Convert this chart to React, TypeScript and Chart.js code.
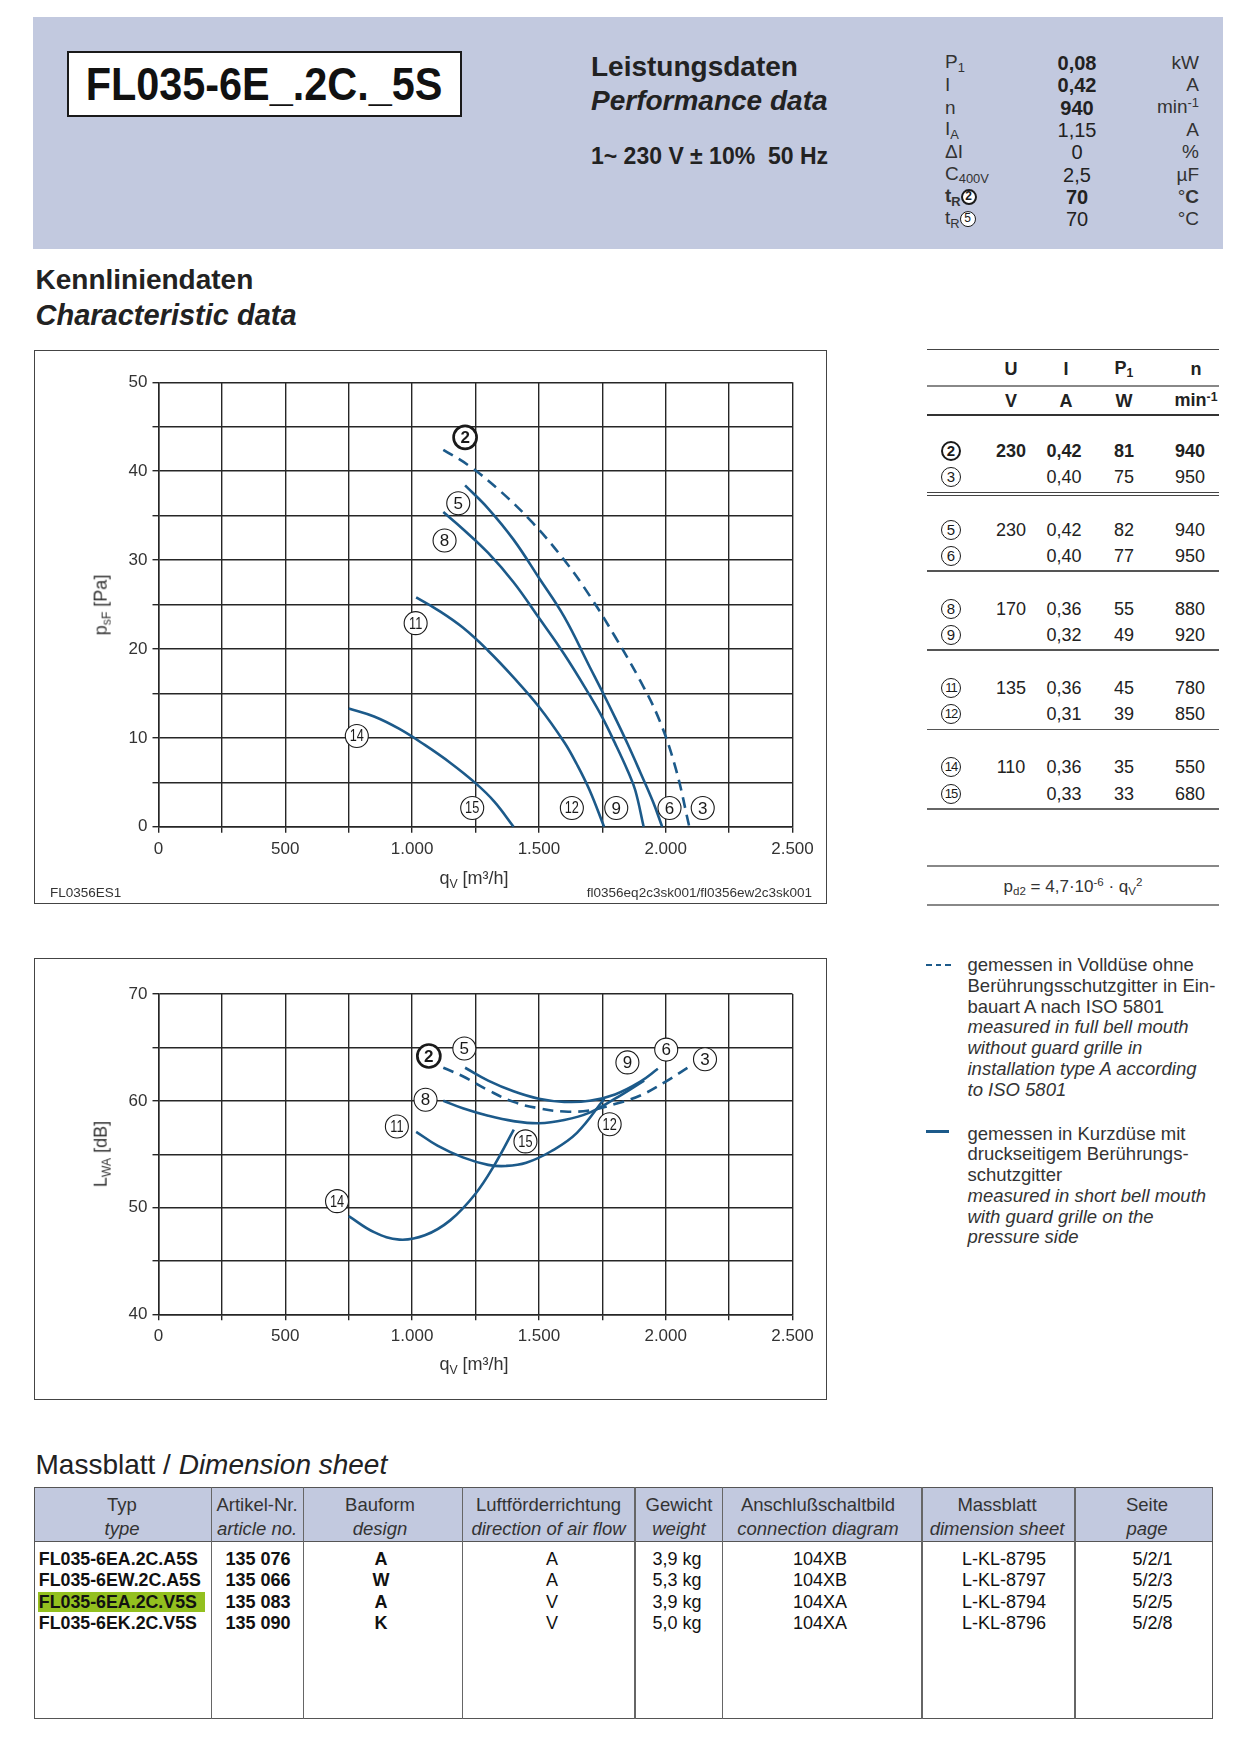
import React, { useEffect, useRef } from 'react';
import { Chart, registerables } from 'chart.js';

Chart.register(...registerables);

const SANS = "'Liberation Sans', Arial, Helvetica, sans-serif";
const BLUE = '#1c5a8a';
const BAND = '#c2c9df';
const GRID = '#262626';
const TEXT = '#222';

// ---------- axis tick labels ----------
const qTickValues = [0, 500, 1000, 1500, 2000, 2500];
const qTickLabels = ['0', '500', '1.000', '1.500', '2.000', '2.500'];
const pTickValues = [0, 10, 20, 30, 40, 50];
const pTickLabels = ['0', '10', '20', '30', '40', '50'];
const lTickValues = [40, 50, 60, 70];
const lTickLabels = ['40', '50', '60', '70'];

// ---------- pressure curves  psF [Pa] vs qV [m3/h] ----------
const pQ_2_3 = [1123, 1225, 1350, 1475, 1600, 1700, 1800, 1900, 1975, 2040, 2093];
const pP_2_3 = [42.4, 40.6, 37.7, 34.2, 30.0, 26.0, 21.4, 16.4, 12.0, 6.5, 0];
const pQ_5_6 = [1209, 1300, 1400, 1500, 1600, 1700, 1750, 1800, 1850, 1900, 1950, 1986];
const pP_5_6 = [38.4, 35.8, 32.3, 28.0, 23.6, 18.0, 15.2, 12.3, 9.3, 6.1, 2.8, 0];
const pQ_8_9 = [1123, 1200, 1300, 1400, 1500, 1600, 1700, 1750, 1800, 1850, 1880, 1913];
const pP_8_9 = [35.4, 33.5, 30.8, 27.5, 23.5, 19.4, 14.8, 12.3, 9.4, 6.3, 4.1, 0];
const pQ_11_12 = [1016, 1100, 1200, 1300, 1400, 1500, 1600, 1650, 1700, 1757];
const pP_11_12 = [25.8, 24.4, 22.4, 19.8, 16.8, 13.5, 9.5, 7.0, 4.1, 0];
const pQ_14_15 = [750, 850, 950, 1050, 1150, 1250, 1325, 1400];
const pP_14_15 = [13.3, 12.4, 11.0, 9.2, 7.2, 4.9, 2.8, 0];

const pLabelText = ['2', '5', '8', '11', '14', '15', '12', '9', '6', '3'];
const pLabelQ = [1209, 1182, 1128, 1014, 782, 1237, 1630, 1805, 2015, 2146];
const pLabelP = [43.8, 36.4, 32.2, 22.9, 10.2, 2.1, 2.1, 2.1, 2.1, 2.1];

// ---------- noise curves  LWA [dB] vs qV [m3/h] ----------
const nQ_2_3 = [1123, 1200, 1300, 1400, 1500, 1600, 1700, 1800, 1900, 2000, 2087];
const nL_2_3 = [63.1, 62.3, 61.0, 59.9, 59.3, 59.0, 59.1, 59.7, 60.5, 61.8, 63.1];
const nQ_5_6 = [1209, 1300, 1400, 1500, 1600, 1700, 1800, 1900, 1969];
const nL_5_6 = [63.1, 61.9, 60.9, 60.2, 59.9, 60.0, 60.6, 61.8, 63.0];
const nQ_8_9 = [1123, 1200, 1300, 1400, 1500, 1600, 1700, 1800, 1915];
const nL_8_9 = [60.0, 59.3, 58.6, 58.1, 57.9, 58.2, 58.9, 60.2, 61.9];
const nQ_11_12 = [1016, 1100, 1200, 1300, 1370, 1450, 1550, 1650, 1758];
const nL_11_12 = [57.1, 55.8, 54.7, 54.0, 53.9, 54.2, 55.3, 57.0, 60.2];
const nQ_14_15 = [750, 850, 950, 1050, 1150, 1250, 1325, 1401];
const nL_14_15 = [49.2, 47.7, 47.0, 47.4, 48.8, 51.3, 54.0, 57.3];

const nLabelText = ['2', '5', '9', '6', '3', '8', '11', '12', '15', '14'];
const nLabelQ = [1066, 1206, 1849, 2002, 2155, 1053, 940, 1779, 1447, 704];
const nLabelL = [64.2, 64.9, 63.6, 64.8, 63.9, 60.1, 57.6, 57.8, 56.2, 50.6];

const boldLabels = ['2'];

// ---------- header performance data ----------
const paramValues = ['0,08', '0,42', '940', '1,15', '0', '2,5', '70', '70'];
const paramBold = [true, true, true, false, false, false, true, false];

// ---------- operating point table ----------
const rowIds = ['2', '3', '5', '6', '8', '9', '11', '12', '14', '15'];
const rowU = ['230', '', '230', '', '170', '', '135', '', '110', ''];
const rowI = ['0,42', '0,40', '0,42', '0,40', '0,36', '0,32', '0,36', '0,31', '0,36', '0,33'];
const rowP = ['81', '75', '82', '77', '55', '49', '45', '39', '35', '33'];
const rowN = ['940', '950', '940', '950', '880', '920', '780', '850', '550', '680'];

// ---------- legend ----------
const legendDashedDe = ['gemessen in Volldüse ohne', 'Berührungsschutzgitter in Ein-', 'bauart A nach ISO 5801'];
const legendDashedEn = ['measured in full bell mouth', 'without guard grille in', 'installation type A according', 'to ISO 5801'];
const legendSolidDe = ['gemessen in Kurzdüse mit', 'druckseitigem Berührungs-', 'schutzgitter'];
const legendSolidEn = ['measured in short bell mouth', 'with guard grille on the', 'pressure side'];

// ---------- dimension sheet ----------
const dimHeadDe = ['Typ', 'Artikel-Nr.', 'Bauform', 'Luftförderrichtung', 'Gewicht', 'Anschlußschaltbild', 'Massblatt', 'Seite'];
const dimHeadEn = ['type', 'article no.', 'design', 'direction of air flow', 'weight', 'connection diagram', 'dimension sheet', 'page'];
const dimTypes = ['FL035-6EA.2C.A5S', 'FL035-6EW.2C.A5S', 'FL035-6EA.2C.V5S', 'FL035-6EK.2C.V5S'];
const dimArticle = ['135 076', '135 066', '135 083', '135 090'];
const dimDesign = ['A', 'W', 'A', 'K'];
const dimFlow = ['A', 'A', 'V', 'V'];
const dimWeight = ['3,9 kg', '5,3 kg', '3,9 kg', '5,0 kg'];
const dimDiagram = ['104XB', '104XB', '104XA', '104XA'];
const dimSheet = ['L-KL-8795', 'L-KL-8797', 'L-KL-8794', 'L-KL-8796'];
const dimPage = ['5/2/1', '5/2/3', '5/2/5', '5/2/8'];
const dimHighlightRow = 2;

// =====================================================================

type Curve = { q: number[]; v: number[]; dashed: boolean };

const pressureCurves: Curve[] = [
  { q: pQ_2_3, v: pP_2_3, dashed: true },
  { q: pQ_5_6, v: pP_5_6, dashed: false },
  { q: pQ_8_9, v: pP_8_9, dashed: false },
  { q: pQ_11_12, v: pP_11_12, dashed: false },
  { q: pQ_14_15, v: pP_14_15, dashed: false },
];
const noiseCurves: Curve[] = [
  { q: nQ_2_3, v: nL_2_3, dashed: true },
  { q: nQ_5_6, v: nL_5_6, dashed: false },
  { q: nQ_8_9, v: nL_8_9, dashed: false },
  { q: nQ_11_12, v: nL_11_12, dashed: false },
  { q: nQ_14_15, v: nL_14_15, dashed: false },
];

const circlePlugin = {
  id: 'circleLabels',
  afterDatasetsDraw(chart: any, _args: any, opts: any) {
    const { ctx, scales } = chart;
    ctx.save();
    (opts.texts as string[]).forEach((t, i) => {
      const x = scales.x.getPixelForValue(opts.xs[i]);
      const y = scales.y.getPixelForValue(opts.ys[i]);
      const bold = boldLabels.includes(t);
      ctx.beginPath();
      ctx.arc(x, y, 11.5, 0, Math.PI * 2);
      ctx.fillStyle = '#fff';
      ctx.fill();
      ctx.lineWidth = bold ? 2.7 : 1.1;
      ctx.strokeStyle = '#1a1a1a';
      ctx.stroke();
      ctx.fillStyle = '#1a1a1a';
      ctx.font = `${bold ? 'bold ' : ''}${t.length > 1 ? 15 : 17}px ${SANS}`;
      ctx.textAlign = 'center';
      ctx.textBaseline = 'middle';
      if (t.length > 1) {
        ctx.save();
        ctx.translate(x, y + 1);
        ctx.scale(0.85, 1.05);
        ctx.fillText(t, 0, 0);
        ctx.restore();
      } else {
        ctx.fillText(t, x, y + 1);
      }
    });
    ctx.restore();
  },
};

type ChartProps = {
  left: number; top: number; width: number; height: number;
  padTop: number; padRight: number; yWidth: number; xHeight: number;
  yMin: number; yMax: number; yTickValues: number[]; yTickLabels: string[];
  curves: Curve[]; labels: { texts: string[]; xs: number[]; ys: number[] };
};

function FanChart(p: ChartProps) {
  const ref = useRef<HTMLCanvasElement>(null);
  useEffect(() => {
    const datasets = p.curves.map((c) => ({
      data: c.q.map((x, i) => ({ x, y: c.v[i] })),
      showLine: true,
      borderColor: BLUE,
      borderWidth: 2.6,
      borderDash: c.dashed ? [11, 7] : [],
      pointRadius: 0,
      tension: 0.4,
      fill: false,
      clip: false as any,
    }));
    const tickFont = { family: SANS, size: 17 };
    const chart = new Chart(ref.current as HTMLCanvasElement, {
      type: 'scatter',
      data: { datasets },
      options: {
        animation: false,
        responsive: false,
        devicePixelRatio: 1,
        layout: { padding: { top: p.padTop, right: p.padRight, left: 0, bottom: 0 } },
        plugins: {
          legend: { display: false },
          tooltip: { enabled: false },
          circleLabels: p.labels,
        } as any,
        scales: {
          x: {
            type: 'linear',
            position: 'bottom',
            min: 0,
            max: 2500,
            afterFit: (s: any) => { s.height = p.xHeight; },
            ticks: {
              stepSize: 250,
              autoSkip: false,
              maxRotation: 0,
              minRotation: 0,
              padding: 6,
              color: '#333',
              font: tickFont,
              callback: (v: any) => {
                const i = qTickValues.indexOf(Number(v));
                return i >= 0 ? qTickLabels[i] : '';
              },
            },
            grid: { color: GRID, lineWidth: 1.4, tickLength: 6, drawTicks: true },
            border: { color: GRID, width: 1.5 },
          },
          y: {
            type: 'linear',
            min: p.yMin,
            max: p.yMax,
            afterFit: (s: any) => { s.width = p.yWidth; },
            ticks: {
              stepSize: 5,
              autoSkip: false,
              padding: 5,
              color: '#333',
              font: tickFont,
              callback: (v: any) => {
                const i = p.yTickValues.indexOf(Number(v));
                return i >= 0 ? p.yTickLabels[i] : '';
              },
            },
            grid: { color: GRID, lineWidth: 1.4, tickLength: 6, drawTicks: true },
            border: { color: GRID, width: 1.5 },
          },
        },
      },
      plugins: [circlePlugin as any],
    });
    return () => chart.destroy();
  }, []);
  return (
    <canvas
      ref={ref}
      width={p.width}
      height={p.height}
      style={{ position: 'absolute', left: p.left, top: p.top, width: p.width, height: p.height }}
    />
  );
}

type TxtProps = {
  x: number; y: number; size: number; align?: 'left' | 'center' | 'right';
  bold?: boolean; italic?: boolean; color?: string; children: React.ReactNode; pre?: boolean; rotate?: boolean; sx?: number;
};
function Txt({ x, y, size, align = 'left', bold, italic, color = TEXT, children, pre, rotate, sx }: TxtProps) {
  const tx = align === 'center' ? '-50%' : align === 'right' ? '-100%' : '0';
  return (
    <div
      style={{
        position: 'absolute', left: x, top: y,
        transform: `translate(${tx},-50%)${rotate ? ' rotate(-90deg)' : ''}${sx ? ` scaleX(${sx})` : ''}`,
        transformOrigin: '50% 50%',
        fontSize: size, fontWeight: bold ? 700 : 400, fontStyle: italic ? 'italic' : 'normal',
        color, fontFamily: SANS, whiteSpace: pre ? 'pre' : 'nowrap', lineHeight: `${size * 1.15}px`,
      }}
    >
      {children}
    </div>
  );
}

const Sub = ({ children }: { children: React.ReactNode }) => (
  <span style={{ fontSize: '0.68em', position: 'relative', top: '0.3em' }}>{children}</span>
);
const Sup = ({ children }: { children: React.ReactNode }) => (
  <span style={{ fontSize: '0.68em', position: 'relative', top: '-0.45em' }}>{children}</span>
);

function Circ({ n, bold = false, d = 20, fs = 15 }: { n: string; bold?: boolean; d?: number; fs?: number }) {
  const bw = bold ? 2.2 : 1.1;
  return (
    <span
      style={{
        display: 'inline-block', width: d, height: d, boxSizing: 'border-box',
        border: `${bw}px solid #1a1a1a`, borderRadius: '50%', textAlign: 'center',
        lineHeight: `${d - 2 * bw}px`, fontSize: n.length > 1 ? fs - 2 : fs, fontWeight: bold ? 700 : 400,
        background: '#fff', verticalAlign: 'middle', letterSpacing: n.length > 1 ? -1 : 0, color: '#1a1a1a',
      }}
    >
      {n}
    </span>
  );
}

const HLine = ({ x1, x2, y, w = 1.5, c = '#555' }: { x1: number; x2: number; y: number; w?: number; c?: string }) => (
  <div style={{ position: 'absolute', left: x1, top: y - w / 2, width: x2 - x1, height: w, background: c }} />
);
const VLine = ({ x, y1, y2, w = 1.2, c = '#555' }: { x: number; y1: number; y2: number; w?: number; c?: string }) => (
  <div style={{ position: 'absolute', left: x - w / 2, top: y1, width: w, height: y2 - y1, background: c }} />
);

export default function App() {
  // layout constants
  const paramRowY = [63, 85.3, 107.6, 129.9, 152.2, 174.5, 196.8, 219.1];
  const paramLabels: React.ReactNode[] = [
    <>P<Sub>1</Sub></>,
    'I',
    'n',
    <>I<Sub>A</Sub></>,
    'ΔI',
    <>C<Sub>400V</Sub></>,
    <><b>t</b><Sub><b>R</b></Sub><Circ n="2" bold d={16} fs={12} /></>,
    <>t<Sub>R</Sub><Circ n="5" d={16} fs={12} /></>,
  ];
  const paramUnits: React.ReactNode[] = [
    'kW', 'A', <>min<Sup>-1</Sup></>, 'A', '%', 'µF', <>°<b>C</b></>, '°C',
  ];
  const rowY = [450.7, 476.8, 529.5, 556, 608.6, 635.2, 688, 714.4, 767.4, 793.8];
  const colX = { id: 951, u: 1011, i: 1064, p: 1124, n: 1190 };
  const legendStep = 20.75;
  const dimEdges = [34.4, 211.7, 303.6, 462.1, 635, 722.5, 922, 1075, 1213.5];
  const dimHeadX = [122, 257, 380, 548.5, 679, 818, 997, 1147];
  const dimBodyX = [38.8, 258, 381, 552, 677, 820, 1004, 1152.5];
  const dimRowY = [1559, 1580.3, 1601.6, 1622.9];
  const dimCols = [dimTypes, dimArticle, dimDesign, dimFlow, dimWeight, dimDiagram, dimSheet, dimPage];

  return (
    <div style={{ position: 'absolute', left: 0, top: 0, width: 1239, height: 1737, background: '#fff', fontFamily: SANS, color: TEXT, overflow: 'hidden' }}>
      {/* header band */}
      <div style={{ position: 'absolute', left: 33, top: 17, width: 1190, height: 232, background: BAND }} />
      <div style={{ position: 'absolute', left: 66.5, top: 51, width: 395, height: 66, background: '#fff', border: '2.5px solid #1a1a1a', boxSizing: 'border-box' }} />
      <Txt x={263.5} y={84} size={46} bold align="center" color="#111" sx={0.9}>FL035-6E_.2C._5S</Txt>
      <Txt x={591} y={66.5} size={28} bold>Leistungsdaten</Txt>
      <Txt x={591} y={101} size={28} bold italic>Performance data</Txt>
      <Txt x={591} y={156} size={23} bold pre>{'1~ 230 V ± 10%  50 Hz'}</Txt>
      {paramRowY.map((y, i) => (
        <React.Fragment key={'pr' + i}>
          <Txt x={945} y={y} size={19} color="#333">{paramLabels[i]}</Txt>
          <Txt x={1077} y={y} size={20} bold={paramBold[i]} align="center" color="#222">{paramValues[i]}</Txt>
          <Txt x={1199} y={y} size={19} align="right" color="#333">{paramUnits[i]}</Txt>
        </React.Fragment>
      ))}

      {/* section title */}
      <Txt x={35.5} y={280} size={28} bold>Kennliniendaten</Txt>
      <Txt x={35.5} y={316} size={29} bold italic>Characteristic data</Txt>

      {/* pressure chart */}
      <div style={{ position: 'absolute', left: 34.4, top: 350.2, width: 792.3, height: 554.1, border: '1.5px solid #444', boxSizing: 'border-box' }} />
      <FanChart
        left={34} top={350} width={793} height={555}
        padTop={32.3} padRight={34.5} yWidth={124.5} xHeight={78.3}
        yMin={0} yMax={50} yTickValues={pTickValues} yTickLabels={pTickLabels}
        curves={pressureCurves}
        labels={{ texts: pLabelText, xs: pLabelQ, ys: pLabelP }}
      />
      <Txt x={102} y={604.5} size={18} align="center" rotate color="#333">p<Sub>sF</Sub> [Pa]</Txt>
      <Txt x={474} y={879} size={18} align="center" color="#333">q<Sub>V</Sub> [m³/h]</Txt>
      <Txt x={50} y={893} size={13.5} color="#333">FL0356ES1</Txt>
      <Txt x={812} y={893} size={13.5} align="right" color="#333">fl0356eq2c3sk001/fl0356ew2c3sk001</Txt>

      {/* operating point table */}
      <HLine x1={927} x2={1219} y={349.5} w={1.5} c="#444" />
      <Txt x={colX.u} y={368.5} size={18} bold align="center">U</Txt>
      <Txt x={colX.i + 2} y={368.5} size={18} bold align="center">I</Txt>
      <Txt x={colX.p} y={368.5} size={18} bold align="center">P<Sub>1</Sub></Txt>
      <Txt x={1196} y={368.5} size={18} bold align="center">n</Txt>
      <HLine x1={927} x2={1219} y={385.5} w={2} c="#888" />
      <Txt x={colX.u} y={401} size={18} bold align="center">V</Txt>
      <Txt x={colX.i + 2} y={401} size={18} bold align="center">A</Txt>
      <Txt x={colX.p} y={401} size={18} bold align="center">W</Txt>
      <Txt x={1196} y={401} size={18} bold align="center">min<Sup>-1</Sup></Txt>
      <HLine x1={927} x2={1219} y={415} w={1.5} c="#333" />
      {rowIds.map((id, i) => {
        const b = i === 0;
        return (
          <React.Fragment key={'row' + i}>
            <Txt x={colX.id} y={rowY[i]} size={15} align="center"><Circ n={id} bold={b} /></Txt>
            <Txt x={colX.u} y={rowY[i]} size={18} bold={b} align="center">{rowU[i]}</Txt>
            <Txt x={colX.i} y={rowY[i]} size={18} bold={b} align="center">{rowI[i]}</Txt>
            <Txt x={colX.p} y={rowY[i]} size={18} bold={b} align="center">{rowP[i]}</Txt>
            <Txt x={colX.n} y={rowY[i]} size={18} bold={b} align="center">{rowN[i]}</Txt>
          </React.Fragment>
        );
      })}
      <HLine x1={927} x2={1219} y={492.5} w={1} c="#444" />
      <HLine x1={927} x2={1219} y={495.5} w={1} c="#444" />
      <HLine x1={927} x2={1219} y={571} w={1.5} c="#555" />
      <HLine x1={927} x2={1219} y={650} w={1.5} c="#555" />
      <HLine x1={927} x2={1219} y={729.5} w={1.5} c="#555" />
      <HLine x1={927} x2={1219} y={809} w={1.8} c="#666" />
      <HLine x1={927} x2={1219} y={866} w={1.8} c="#888" />
      <Txt x={1073} y={887.5} size={17} align="center" color="#333">
        p<Sub>d2</Sub> = 4,7·10<Sup>-6</Sup> · q<Sub>V</Sub><Sup>2</Sup>
      </Txt>
      <HLine x1={927} x2={1219} y={905} w={1.8} c="#888" />

      {/* noise chart */}
      <div style={{ position: 'absolute', left: 34.4, top: 957.5, width: 792.3, height: 442.2, border: '1.5px solid #444', boxSizing: 'border-box' }} />
      <FanChart
        left={34} top={957} width={793} height={443}
        padTop={37.1} padRight={34.5} yWidth={124.5} xHeight={85.7}
        yMin={40} yMax={70} yTickValues={lTickValues} yTickLabels={lTickLabels}
        curves={noiseCurves}
        labels={{ texts: nLabelText, xs: nLabelQ, ys: nLabelL }}
      />
      <Txt x={102} y={1154} size={18} align="center" rotate color="#333">L<Sub>WA</Sub> [dB]</Txt>
      <Txt x={474} y={1365} size={18} align="center" color="#333">q<Sub>V</Sub> [m³/h]</Txt>

      {/* legend */}
      <div style={{ position: 'absolute', left: 926, top: 963.5, display: 'flex', gap: 4 }}>
        <span style={{ width: 5.5, height: 2.6, background: BLUE }} />
        <span style={{ width: 5.5, height: 2.6, background: BLUE }} />
        <span style={{ width: 5.5, height: 2.6, background: BLUE }} />
      </div>
      {legendDashedDe.map((s, i) => (
        <Txt key={'ld' + i} x={967.5} y={965 + i * legendStep} size={18.5} color="#333">{s}</Txt>
      ))}
      {legendDashedEn.map((s, i) => (
        <Txt key={'le' + i} x={967.5} y={965 + (i + 3) * legendStep} size={18.5} italic color="#333">{s}</Txt>
      ))}
      <div style={{ position: 'absolute', left: 926, top: 1130.2, width: 23, height: 2.6, background: BLUE }} />
      {legendSolidDe.map((s, i) => (
        <Txt key={'sd' + i} x={967.5} y={1133.6 + i * legendStep} size={18.5} color="#333">{s}</Txt>
      ))}
      {legendSolidEn.map((s, i) => (
        <Txt key={'se' + i} x={967.5} y={1133.6 + (i + 3) * legendStep} size={18.5} italic color="#333">{s}</Txt>
      ))}

      {/* dimension sheet */}
      <Txt x={35.5} y={1465} size={28}>Massblatt / <i>Dimension sheet</i></Txt>
      <div style={{ position: 'absolute', left: 34.4, top: 1487, width: 1179.1, height: 54.5, background: BAND }} />
      <div style={{ position: 'absolute', left: 34.4, top: 1487, width: 1179.1, height: 232, border: '1.5px solid #555', boxSizing: 'border-box' }} />
      <HLine x1={34.4} x2={1213.5} y={1541.5} w={1.5} c="#555" />
      {dimEdges.slice(1, -1).map((x, i) => (
        <VLine key={'dv' + i} x={x} y1={1487} y2={1719} w={1.2} c="#666" />
      ))}
      {dimHeadDe.map((s, i) => (
        <React.Fragment key={'dh' + i}>
          <Txt x={dimHeadX[i]} y={1505} size={18.5} align="center" color="#333">{s}</Txt>
          <Txt x={dimHeadX[i]} y={1529} size={18.5} italic align="center" color="#333">{dimHeadEn[i]}</Txt>
        </React.Fragment>
      ))}
      <div style={{ position: 'absolute', left: 37.5, top: dimRowY[dimHighlightRow] - 10, width: 167, height: 20, background: '#93c01f' }} />
      {dimCols.map((col, c) =>
        col.map((s, r) => (
          <Txt
            key={'dc' + c + '_' + r}
            x={dimBodyX[c]}
            y={dimRowY[r]}
            size={c === 0 ? 17.8 : 18}
            bold={c <= 2}
            align={c === 0 ? 'left' : 'center'}
            color="#111"
          >
            {s}
          </Txt>
        ))
      )}
    </div>
  );
}
